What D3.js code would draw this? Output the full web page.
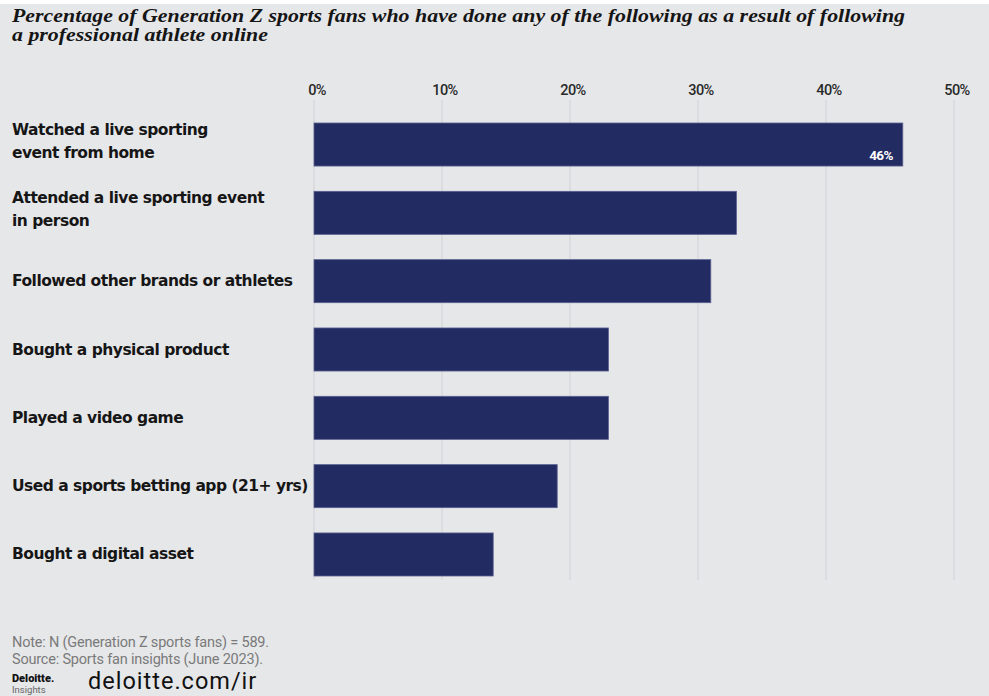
<!DOCTYPE html>
<html lang="en">
<head>
<meta charset="utf-8" />
<title>Gen Z sports fans</title>
<script src="https://d3js.org/d3.v7.min.js"></script>
<style>
  body { margin: 0; background: #fff; }
  svg { display: block; }
</style>
</head>
<body>
<svg id="chart" width="989" height="696"></svg>
<script>
// data
const categories = [
  ["Watched a live sporting", "event from home"],
  ["Attended a live sporting event", "in person"],
  ["Followed other brands or athletes"],
  ["Bought a physical product"],
  ["Played a video game"],
  ["Used a sports betting app (21+ yrs)"],
  ["Bought a digital asset"]
];
const values = [46, 33, 31, 23, 23, 19, 14];
const ticks = [0, 10, 20, 30, 40, 50];

const svg = d3.select("#chart");
const W = 989, H = 696;
const navy = "#232b63";

// gray panel
svg.append("rect").attr("x", 0).attr("y", 4).attr("width", W).attr("height", H - 4).attr("fill", "#e6e7e9");

// title - serif italic, squeezed to the width of the original line
const title = svg.append("text")
  .attr("font-family", "Liberation Serif, serif")
  .attr("font-style", "italic")
  .attr("font-weight", 700)
  .attr("font-size", 19.5)
  .attr("fill", "#151515");
const t1 = title.append("tspan").attr("x", 12).attr("y", 22)
  .text("Percentage of Generation Z sports fans who have done any of the following as a result of following");
const t2 = title.append("tspan").attr("x", 12).attr("y", 41)
  .text("a professional athlete online");
const k = 893 / t1.node().getComputedTextLength();
t2.attr("textLength", t2.node().getComputedTextLength() * k).attr("lengthAdjust", "spacingAndGlyphs");
t1.attr("textLength", 893).attr("lengthAdjust", "spacingAndGlyphs");

const x = d3.scaleLinear().domain([0, 50]).range([314, 954]);
const y = d3.scaleBand().domain(d3.range(values.length)).range([123, 576]).paddingInner(0.37);

// gridlines
svg.append("g").selectAll("line")
  .data(ticks)
  .join("line")
  .attr("x1", d => x(d)).attr("x2", d => x(d))
  .attr("y1", 100).attr("y2", 580)
  .attr("stroke", "#d8d9dc")
  .attr("stroke-width", 1.5);

// tick labels
svg.append("g").selectAll("text")
  .data(ticks)
  .join("text")
  .attr("x", d => x(d) + 3)
  .attr("y", 95)
  .attr("text-anchor", "middle")
  .attr("font-family", "Roboto, sans-serif")
  .attr("font-weight", 500)
  .attr("font-size", 14.5)
  .attr("letter-spacing", -0.6)
  .attr("fill", "#2a2a2a")
  .text(d => d + "%");

// bars
svg.append("g").selectAll("rect")
  .data(values)
  .join("rect")
  .attr("x", x(0))
  .attr("y", (d, i) => y(i))
  .attr("width", d => x(d) - x(0))
  .attr("height", y.bandwidth())
  .attr("fill", navy)
  .attr("stroke", "#5a6190")
  .attr("stroke-width", 0.8);

// category labels
const lab = svg.append("g").selectAll("text")
  .data(categories)
  .join("text")
  .attr("font-family", "DejaVu Sans, sans-serif")
  .attr("font-weight", 700)
  .attr("font-size", 14)
  .attr("letter-spacing", -0.5)
  .attr("fill", "#161616");
lab.each(function (d, i) {
  const c = y(i) + y.bandwidth() / 2;
  const t = d3.select(this);
  if (d.length === 1) {
    t.append("tspan").attr("x", 12).attr("y", c + 5).text(d[0]);
  } else {
    t.append("tspan").attr("x", 12).attr("y", c - 10).text(d[0]);
    t.append("tspan").attr("x", 12).attr("y", c + 13).text(d[1]);
  }
});
// fit label size so "Followed other brands or athletes" is ~279px wide like the original
const ref = lab.filter((d, i) => i === 2).node().getComputedTextLength();
lab.attr("font-size", 14 * 279 / ref);

// value label on first bar
svg.append("text")
  .attr("x", x(values[0]) - 10)
  .attr("y", y(0) + y.bandwidth() - 6)
  .attr("text-anchor", "end")
  .attr("font-family", "Roboto, sans-serif")
  .attr("font-weight", 700)
  .attr("font-size", 13.5)
  .attr("letter-spacing", -0.6)
  .attr("fill", "#fff")
  .text(values[0] + "%");

// notes
const note = svg.append("text")
  .attr("font-family", "Roboto, sans-serif")
  .attr("font-size", 14.5)
  .attr("letter-spacing", -0.2)
  .attr("fill", "#7a7a7a");
note.append("tspan").attr("x", 12).attr("y", 647).text("Note: N (Generation Z sports fans) = 589.");
note.append("tspan").attr("x", 12).attr("y", 664).text("Source: Sports fan insights (June 2023).");

// logo
svg.append("text").attr("x", 12).attr("y", 682)
  .attr("font-family", "Roboto, sans-serif").attr("font-weight", 900)
  .attr("font-size", 11).attr("fill", "#111").text("Deloitte.");
svg.append("text").attr("x", 12).attr("y", 692.5)
  .attr("font-family", "Roboto, sans-serif")
  .attr("font-size", 9.5).attr("fill", "#666").text("Insights");
svg.append("text").attr("x", 88).attr("y", 689)
  .attr("font-family", "Roboto, sans-serif")
  .attr("font-size", 23.5).attr("letter-spacing", 1).attr("fill", "#111").text("deloitte.com/ir");
</script>
</body>
</html>
